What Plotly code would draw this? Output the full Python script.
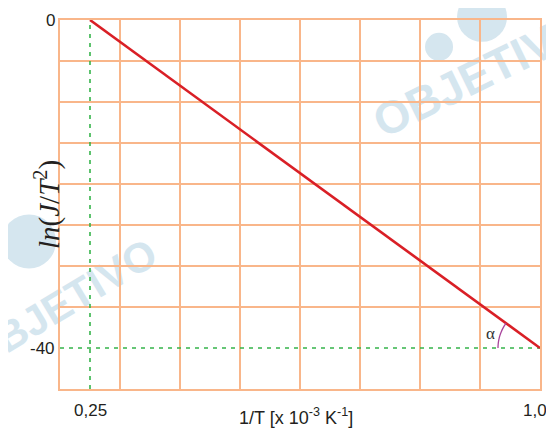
import numpy as np
import plotly.graph_objects as go

# ---- data ----
line_x = [0.25, 1.0]
line_y = [0, -40]
ref_x = 0.25
ref_y = -40
grid_x = [0.2, 0.3, 0.4, 0.5, 0.6, 0.7, 0.8, 0.9, 1.0]
grid_y = [0, -5, -10, -15, -20, -25, -30, -35, -45]
xtick_vals = [0.25, 1.0]
xtick_text = ["0,25", "1,0"]
ytick_vals = [0, -40]
ytick_text = ["0", "-40"]
x_range = [0.2, 1.0]
y_range = [-45, 0]

ORANGE = "#f9b68a"
GREEN = "#35b44a"
RED = "#d91f26"
WM = "#d5e6ef"
TXT = "#231f20"

fig = go.Figure()

# green dashed reference lines
fig.add_trace(go.Scatter(x=[ref_x, ref_x], y=y_range, mode="lines",
                         line=dict(color=GREEN, width=1.6, dash="4px,5px"),
                         hoverinfo="skip", showlegend=False))
fig.add_trace(go.Scatter(x=x_range, y=[ref_y, ref_y], mode="lines",
                         line=dict(color=GREEN, width=1.6, dash="4px,5px"),
                         hoverinfo="skip", showlegend=False))
# red line
fig.add_trace(go.Scatter(x=line_x, y=line_y, mode="lines",
                         line=dict(color=RED, width=2.6),
                         hoverinfo="skip", showlegend=False))

# angle arc (pixel path anchored at line end)
r = 42
ang = np.radians(np.linspace(180, 143.75, 20))
pts = [f"{r*np.cos(a):.2f},{r*np.sin(a):.2f}" for a in ang]
path = "M " + " L ".join(pts)
fig.add_shape(type="path", path=path, xref="x", yref="y",
              xsizemode="pixel", ysizemode="pixel",
              xanchor=line_x[-1], yanchor=line_y[-1],
              line=dict(color="#a8449c", width=1.3), layer="above")

# watermark
for cx, cy, ang_t, fs in [(0.873, 0.865, -26, 46), (0.0, 0.24, -31, 42)]:
    fig.add_shape(type="rect", xref="paper", yref="paper",
                  x0=cx - 0.01, x1=cx + 0.01, y0=cy - 0.01, y1=cy + 0.01,
                  line=dict(width=0, color="rgba(0,0,0,0)"),
                  fillcolor="rgba(0,0,0,0)", layer="below",
                  label=dict(text="<b>OBJETIVO</b>", textangle=ang_t,
                             textposition="middle center",
                             font=dict(family="Liberation Sans", size=fs, color=WM)))
for ax, ay, x0, y0, x1, y1 in [(0.873, 0.865, -22, 28, 28, 78),
                               (0.873, 0.865, -54, 9, -26, 37),
                               (0.0, 0.24, -58, 32, -4, 86)]:
    fig.add_shape(type="circle", xref="paper", yref="paper",
                  xsizemode="pixel", ysizemode="pixel", xanchor=ax, yanchor=ay,
                  x0=x0, x1=x1, y0=y0, y1=y1,
                  line=dict(width=0), fillcolor=WM, layer="below")

# tick labels
x_anchor = ["center", "right"]
x_shift = [0, 9]
for v, t, xa, xs in zip(xtick_vals, xtick_text, x_anchor, x_shift):
    fig.add_annotation(x=v, y=0, xref="x", yref="paper", text=t, showarrow=False,
                       xanchor=xa, xshift=xs, yanchor="middle", yshift=-21,
                       font=dict(family="Liberation Sans", size=17, color=TXT))
for v, t in zip(ytick_vals, ytick_text):
    fig.add_annotation(x=0, y=v, xref="paper", yref="y", text=t, showarrow=False,
                       xanchor="right", xshift=-3,
                       font=dict(family="Liberation Sans", size=17, color=TXT))

# axis titles
fig.add_annotation(x=0, y=0.5, xref="paper", yref="paper", xshift=-33,
                   text="<i>ln</i>(<i>J</i>/<i>T</i><sup>2</sup>)", textangle=-90,
                   showarrow=False,
                   font=dict(family="Liberation Serif", size=29, color=TXT))
fig.add_annotation(x=0.5, y=0, xref="paper", yref="paper", xshift=-4, yshift=-41,
                   text="1/T [x 10<sup>-3</sup> K<sup>-1</sup>]", showarrow=False,
                   font=dict(family="Liberation Sans", size=18, color=TXT))
# alpha
fig.add_annotation(x=line_x[-1], y=line_y[-1], xref="x", yref="y",
                   xshift=-50, yshift=15, text="α", showarrow=False,
                   font=dict(family="Liberation Serif", size=17, color="#333333"))

fig.update_xaxes(range=x_range, tickvals=grid_x, showticklabels=False, ticks="",
                 showgrid=True, gridcolor=ORANGE, gridwidth=1.8,
                 showline=True, linecolor=ORANGE, linewidth=1.8, mirror=True,
                 zeroline=False, fixedrange=True)
fig.update_yaxes(range=y_range, tickvals=grid_y, showticklabels=False, ticks="",
                 showgrid=True, gridcolor=ORANGE, gridwidth=1.8,
                 showline=True, linecolor=ORANGE, linewidth=1.8, mirror=True,
                 zeroline=False, fixedrange=True)

fig.update_layout(width=546, height=431,
                  margin=dict(l=52, r=14, t=10, b=50),
                  paper_bgcolor="white", plot_bgcolor="rgba(0,0,0,0)",
                  showlegend=False)

fig.write_html("out.html")
